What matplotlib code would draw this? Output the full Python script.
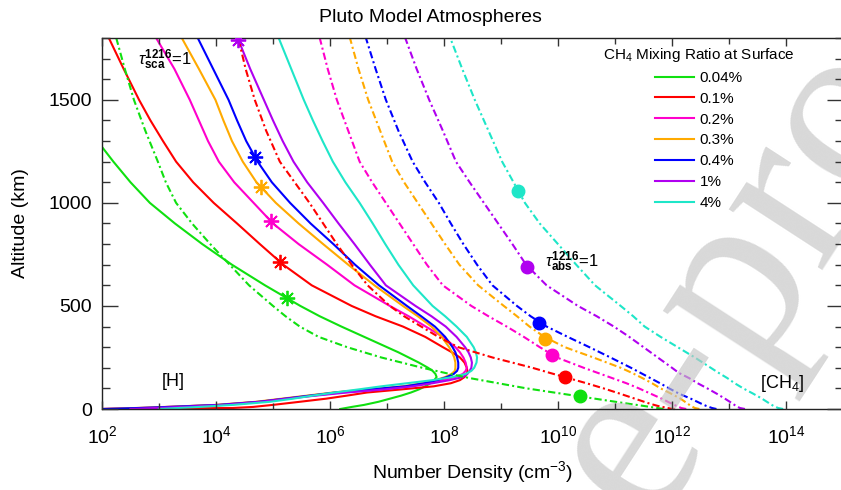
import numpy as np
import matplotlib
matplotlib.use("Agg")
import matplotlib.pyplot as plt
from matplotlib.ticker import FixedLocator, FuncFormatter, MultipleLocator
from matplotlib.lines import Line2D

plt.rcParams['font.family'] = ['Liberation Sans', 'DejaVu Sans']
plt.rcParams['mathtext.fontset'] = 'custom'
plt.rcParams['mathtext.rm'] = 'Liberation Sans'
plt.rcParams['mathtext.it'] = 'Liberation Sans:italic'
plt.rcParams['mathtext.bf'] = 'Liberation Sans:bold'

# mixing ratios and colours
labels = ['0.04%', '0.1%', '0.2%', '0.3%', '0.4%', '1%', '4%']
colors = ['#10e010', '#ff0000', '#ff00cc', '#ffaa00', '#0000ff', '#b000f0', '#1ee6c8']

# [H] profiles: log10 density (cm^-3) at each altitude (km)
h_alt = [0, 5, 10, 20, 35, 50, 65, 80, 95, 110, 125, 140, 155, 170, 185, 200, 225, 250, 275, 300,
         350, 400, 450, 500, 600, 700, 800, 900, 1000, 1100, 1200, 1300, 1400, 1500, 1650, 1800]
h_green = [6.18, 6.28, 6.38, 6.6, 6.85, 7.05, 7.25, 7.42, 7.56, 7.67, 7.76, 7.83, 7.87, 7.85, 7.8, 7.72, 7.56, 7.38, 7.2, 7.0,
           6.6, 6.2, 5.82, 5.48, 4.86, 4.28, 3.76, 3.28, 2.84, 2.5, 2.2, 1.92, 1.65, 1.4, 1.05, 0.7]
h_red = [2.0, 4.3, 4.65, 5.0, 5.47, 5.93, 6.3, 6.65, 7.25, 7.82, 8.12, 8.28, 8.36, 8.40, 8.41, 8.40, 8.36, 8.28, 8.14, 7.98,
         7.67, 7.28, 6.8, 6.38, 5.68, 5.18, 4.77, 4.37, 3.96, 3.6, 3.3, 3.07, 2.85, 2.65, 2.38, 2.12]
h_magenta = [2.0, 2.7, 3.15, 4.05, 4.75, 5.22, 5.7, 6.2, 6.85, 7.38, 7.72, 7.98, 8.2, 8.33, 8.38, 8.4, 8.38, 8.34, 8.28, 8.2,
             7.98, 7.68, 7.38, 7.05, 6.43, 5.95, 5.45, 5.0, 4.66, 4.32, 4.05, 3.86, 3.7, 3.54, 3.27, 2.95]
h_orange = [2.0, 2.6, 3.1, 4.0, 4.7, 5.15, 5.6, 6.05, 6.65, 7.28, 7.62, 7.85, 8.02, 8.13, 8.19, 8.2, 8.2, 8.18, 8.14, 8.09,
            7.96, 7.78, 7.54, 7.28, 6.78, 6.32, 5.88, 5.45, 5.05, 4.71, 4.47, 4.28, 4.13, 3.99, 3.7, 3.4]
h_blue = [2.0, 2.65, 3.15, 4.05, 4.75, 5.2, 5.65, 6.1, 6.7, 7.32, 7.65, 7.88, 8.05, 8.17, 8.23, 8.25, 8.25, 8.23, 8.2, 8.15,
          8.02, 7.84, 7.6, 7.35, 6.86, 6.44, 6.06, 5.66, 5.3, 4.98, 4.73, 4.53, 4.37, 4.22, 3.95, 3.68]
h_purple = [2.5, 2.95, 3.4, 4.15, 4.8, 5.25, 5.75, 6.3, 6.95, 7.45, 7.8, 8.1, 8.33, 8.41, 8.45, 8.48, 8.49, 8.47, 8.43, 8.37,
            8.22, 8.03, 7.78, 7.5, 6.98, 6.7, 6.43, 6.15, 5.88, 5.6, 5.36, 5.17, 5.0, 4.84, 4.6, 4.38]
h_cyan = [3.0, 3.35, 3.7, 4.3, 4.95, 5.35, 5.7, 6.08, 6.5, 6.9, 7.35, 7.8, 8.15, 8.38, 8.48, 8.53, 8.57, 8.58, 8.56, 8.52,
          8.4, 8.22, 8.02, 7.8, 7.46, 7.2, 6.97, 6.75, 6.52, 6.27, 6.05, 5.87, 5.7, 5.54, 5.32, 5.1]

# [CH4] profiles
c_alt = [0, 5, 15, 25, 50, 75, 100, 125, 150, 175, 200, 250, 300, 350, 400, 450, 500, 600, 700, 800,
         900, 1000, 1100, 1200, 1350, 1500, 1650, 1800]
c_green = [11.85, 11.74, 11.5, 11.25, 10.65, 10.05, 9.45, 8.95, 8.45, 8.02, 7.62, 6.9, 6.3, 5.8, 5.47, 5.22, 5.0, 4.58, 4.24, 3.9,
           3.58, 3.3, 3.12, 2.98, 2.76, 2.56, 2.4, 2.25]
c_red = [12.05, 11.92, 11.75, 11.62, 11.35, 11.08, 10.8, 10.5, 10.18, 9.86, 9.55, 8.85, 8.25, 7.9, 7.6, 7.3, 7.05, 6.66, 6.38, 6.12,
         5.88, 5.64, 5.38, 5.12, 4.88, 4.68, 4.52, 4.39]
c_magenta = [12.25, 12.16, 12.08, 12.0, 11.82, 11.62, 11.42, 11.2, 10.95, 10.7, 10.45, 9.98, 9.68, 9.4, 9.1, 8.78, 8.48, 7.98, 7.7, 7.46,
             7.22, 6.98, 6.74, 6.52, 6.32, 6.12, 5.96, 5.82]
c_orange = [12.48, 12.4, 12.33, 12.28, 12.15, 11.98, 11.8, 11.65, 11.48, 11.3, 11.1, 10.62, 10.12, 9.76, 9.5, 9.28, 9.05, 8.6, 8.27, 8.02,
            7.78, 7.54, 7.3, 7.09, 6.88, 6.67, 6.5, 6.35]
c_blue = [12.78, 12.7, 12.6, 12.52, 12.33, 12.12, 11.95, 11.79, 11.62, 11.45, 11.28, 10.92, 10.55, 10.17, 9.8, 9.52, 9.28, 8.85, 8.58, 8.34,
          8.12, 7.91, 7.67, 7.45, 7.2, 6.98, 6.8, 6.63]
c_purple = [13.28, 13.19, 13.12, 13.07, 12.93, 12.78, 12.62, 12.45, 12.3, 12.12, 12.0, 11.75, 11.5, 11.25, 10.98, 10.68, 10.35, 9.8, 9.44, 9.2,
            8.95, 8.7, 8.45, 8.21, 7.98, 7.74, 7.52, 7.32]
c_cyan = [13.95, 13.86, 13.78, 13.72, 13.58, 13.42, 13.25, 13.1, 12.97, 12.82, 12.68, 12.4, 12.1, 11.8, 11.52, 11.32, 11.1, 10.65, 10.32, 10.0,
          9.68, 9.42, 9.22, 9.02, 8.78, 8.54, 8.32, 8.11]

# tau_sca = 1 (asterisks) and tau_abs = 1 (dots), log10 density / altitude
sca_logn = [5.25, 5.12, 4.96, 4.79, 4.68, 4.38]
sca_alt = [540, 715, 910, 1075, 1221, 1790]
abs_logn = [10.39, 10.12, 9.89, 9.77, 9.67, 9.46, 9.30]
abs_alt = [63, 155, 263, 340, 418, 691, 1060]

h_curves = [h_green, h_red, h_magenta, h_orange, h_blue, h_purple, h_cyan]
c_curves = [c_green, c_red, c_magenta, c_orange, c_blue, c_purple, c_cyan]

fig = plt.figure(figsize=(8.41, 4.90), dpi=100)
ax = fig.add_axes([102/841, 81/490, 741/841, 371/490])

for logn, col in zip(h_curves, colors):
    ax.plot(10**np.array(logn), h_alt, color=col, lw=1.5, zorder=2)
for logn, col in zip(c_curves, colors):
    ax.plot(10**np.array(logn), c_alt, color=col, lw=1.5, ls=(0, (3.5, 1.5, 1, 1.5)), zorder=2)

for i in range(len(sca_logn)):
    ax.plot(10**sca_logn[i], sca_alt[i], marker=(8, 2, 0), ms=11, mew=1.3,
            color=colors[i], ls='none', zorder=3)
for i in range(len(abs_logn)):
    ax.plot(10**abs_logn[i], abs_alt[i], marker='o', ms=9, color=colors[i],
            ls='none', zorder=3)

ax.set_xscale('log')
ax.set_xlim(1e2, 1e15)
ax.set_ylim(0, 1800)
ax.xaxis.set_major_locator(FixedLocator([10.0**k for k in range(2, 16, 2)]))
ax.xaxis.set_minor_locator(FixedLocator([10.0**k for k in range(3, 16, 2)]))
ax.xaxis.set_major_formatter(FuncFormatter(lambda v, p: r'$10^{%d}$' % round(np.log10(v))))
ax.xaxis.set_minor_formatter(FuncFormatter(lambda v, p: ''))
ax.yaxis.set_major_locator(MultipleLocator(500))
ax.yaxis.set_minor_locator(MultipleLocator(100))

ax.tick_params(which='both', direction='in', top=True, right=True, width=1, color='#333333')
ax.tick_params(axis='y', which='major', length=11.5, pad=7, labelsize=14)
ax.tick_params(axis='y', which='minor', length=5.8)
ax.tick_params(axis='x', which='major', length=5.5, pad=12, labelsize=14)
ax.tick_params(axis='x', which='minor', length=4.5)
ax.set_axisbelow(False)
for s in ax.spines.values():
    s.set_linewidth(1.0)
    s.set_color('#222222')

ax.set_xlabel(r'Number Density (cm$^{-3}$)', fontsize=14, labelpad=8)
ax.set_ylabel('Altitude (km)', fontsize=14, labelpad=14)
fig.text(430/841, 1 - 17/490, 'Pluto Model Atmospheres', fontsize=14, ha='center', va='center')

ax.text(0.096, 0.075, '[H]', transform=ax.transAxes, fontsize=13, ha='center', va='center', zorder=4)
ax.text(0.918, 0.070, r'[CH$_4$]', transform=ax.transAxes, fontsize=13, ha='center', va='center', zorder=4)
ax.text(0.049, 0.94, r'$\tau^{\mathbf{1216}}_{\mathbf{sca}}$=1', transform=ax.transAxes,
        fontsize=12, ha='left', va='center', zorder=4)
ax.text(0.598, 0.396, r'$\tau^{\mathbf{1216}}_{\mathbf{abs}}$=1', transform=ax.transAxes,
        fontsize=12, ha='left', va='center', zorder=4)

handles = [Line2D([], [], color=c, lw=1.5) for c in colors]
leg = ax.legend(handles, labels, title=r'CH$_4$ Mixing Ratio at Surface', loc='upper left',
                bbox_to_anchor=(603/841, 1 - 46/490), bbox_transform=fig.transFigure,
                frameon=False, fontsize=11, title_fontsize=11, handlelength=2.6,
                handletextpad=0.35, labelspacing=0.45, borderpad=0, borderaxespad=0)
leg.set_zorder(5)

# grey watermark across the right side (above the curves, below axis labels)
ax.text(648/841, 1 - 526/490, 'e-proof', transform=fig.transFigure, clip_on=False,
        rotation=57, rotation_mode='anchor', fontsize=175, color='0.77', alpha=0.65,
        family='Liberation Serif', ha='left', va='baseline', zorder=2.2)

fig.savefig('out.png', dpi=100)
